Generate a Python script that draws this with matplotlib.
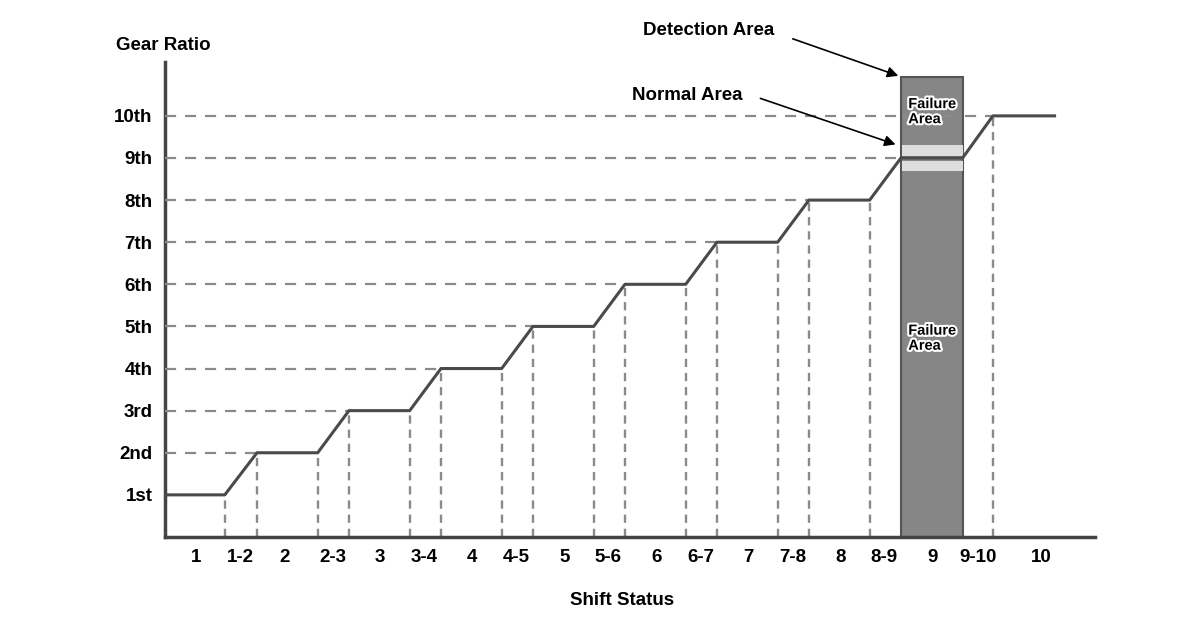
import matplotlib
matplotlib.use("Agg")
import matplotlib.pyplot as plt
import matplotlib.patheffects as pe

plt.rcParams["font.family"] = ["Liberation Sans", "DejaVu Sans"]

# gear levels and their labels
gears = [1, 2, 3, 4, 5, 6, 7, 8, 9, 10]
gear_labels = ["1st", "2nd", "3rd", "4th", "5th", "6th", "7th", "8th", "9th", "10th"]

# start / end of each flat section (in shift-stage units)
flat_start = [0.0, 1.0, 2.0, 3.0, 4.0, 5.0, 6.0, 7.0, 8.0, 9.0]
flat_end = [0.65, 1.66, 2.66, 3.66, 4.66, 5.66, 6.66, 7.66, 8.67, 9.67]

# shift status tick labels
shift_labels = ["1", "1-2", "2", "2-3", "3", "3-4", "4", "4-5", "5", "5-6",
                "6", "6-7", "7", "7-8", "8", "8-9", "9", "9-10", "10"]
shift_pos = [0.34, 0.82, 1.30, 1.82, 2.34, 2.82, 3.34, 3.82, 4.34, 4.82,
             5.34, 5.82, 6.34, 6.82, 7.34, 7.82, 8.34, 8.84, 9.52]

# detection area around 9th gear
detect_x = (8.0, 8.68)
detect_top = 10.93
normal_bands = [(9.05, 9.30), (8.68, 8.93)]

fig = plt.figure(figsize=(11.99, 6.21), dpi=100)
ax = fig.add_axes([0.1376, 0.1353, 0.7757, 0.7649])
ax.set_xlim(0, 10.11)
ax.set_ylim(0, 11.28)

line_c = "#4a4a4a"
dash_c = "#8a8a8a"
fs = 13.5

# step line
xs, ys = [], []
for g, s, e in zip(gears, flat_start, flat_end):
    xs += [s, e]
    ys += [g, g]
ax.plot(xs, ys, color=line_c, lw=2.2, zorder=5, solid_joinstyle="round")

# vertical dashed guides at each corner (skip those hidden by the box)
for g, s, e in zip(gears, flat_start, flat_end):
    for x in (s, e):
        if x == 0.0 or x >= 9.5 or detect_x[0] - 0.01 <= x <= detect_x[1] + 0.01:
            continue
        ax.plot([x, x], [0, g], color=dash_c, lw=1.7, ls=(0, (3.5, 2.5)), zorder=1)

# detection box
ax.add_patch(plt.Rectangle((detect_x[0], 0), detect_x[1] - detect_x[0], detect_top,
                           facecolor="#868686", edgecolor="#555555", lw=1.5, zorder=2))
for lo, hi in normal_bands:
    ax.add_patch(plt.Rectangle((detect_x[0] + 0.01, lo), detect_x[1] - detect_x[0] - 0.02, hi - lo,
                               facecolor="#dedede", edgecolor="none", zorder=2.5))

# horizontal dashed guides
for g, s in zip(gears[1:], flat_start[1:]):
    ax.plot([0, s], [g, g], color=dash_c, lw=1.6, ls=(0, (5, 4)), zorder=3)

stroke = [pe.withStroke(linewidth=3, foreground="white")]
for y in (10.1, 4.72):
    ax.text(detect_x[0] + 0.08, y, "Failure\nArea", fontsize=10.5, fontweight="bold",
            color="black", ha="left", va="center", linespacing=1.1,
            path_effects=stroke, zorder=6)

# axes styling
for side in ("top", "right"):
    ax.spines[side].set_visible(False)
for side in ("left", "bottom"):
    ax.spines[side].set_color("#444444")
    ax.spines[side].set_linewidth(2.5)
ax.set_yticks(gears)
ax.set_yticklabels(gear_labels, fontsize=fs, fontweight="bold")
ax.set_xticks(shift_pos)
ax.set_xticklabels(shift_labels, fontsize=fs, fontweight="bold")
ax.tick_params(length=0)
ax.tick_params(axis="y", pad=9)
ax.tick_params(axis="x", pad=9)

fig.text(0.097, 0.927, "Gear Ratio", fontsize=fs, fontweight="bold", ha="left", va="center")
fig.text(0.519, 0.033, "Shift Status", fontsize=fs, fontweight="bold", ha="center", va="center")

arrow = dict(arrowstyle="-|>", color="black", lw=1.2, mutation_scale=16)
ax.annotate("Detection Area", xy=(detect_x[0], detect_top), xycoords="data",
            xytext=(0.591, 0.951), textcoords="figure fraction",
            fontsize=fs, fontweight="bold", ha="center", va="center")
ax.annotate("", xy=(detect_x[0], detect_top), xycoords="data",
            xytext=(0.659, 0.939), textcoords="figure fraction", arrowprops=arrow)
ax.annotate("Normal Area", xy=(7.97, normal_bands[0][1]), xycoords="data",
            xytext=(0.573, 0.847), textcoords="figure fraction",
            fontsize=fs, fontweight="bold", ha="center", va="center")
ax.annotate("", xy=(7.97, normal_bands[0][1]), xycoords="data",
            xytext=(0.632, 0.843), textcoords="figure fraction", arrowprops=arrow)

fig.savefig("out.png", dpi=100)
